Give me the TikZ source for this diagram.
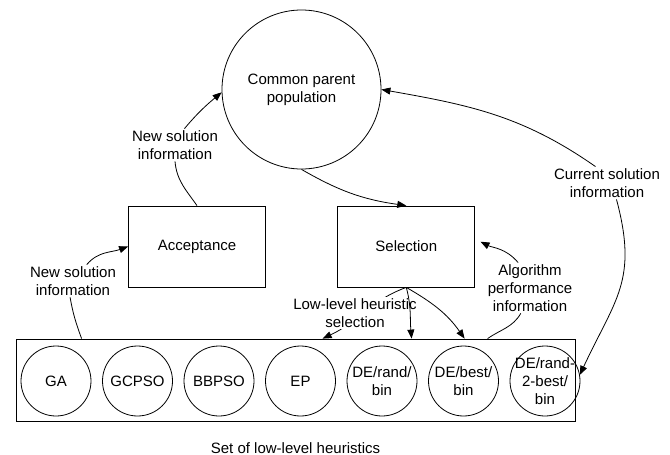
\documentclass[tikz,border=0pt]{standalone}
\usepackage{fontspec}
\setmainfont{Liberation Sans}
\usepackage{tikz}
\usetikzlibrary{shapes,positioning,arrows.meta}
\tikzset{heur/.style={circle,draw,minimum size=70pt,inner sep=0pt,align=center}}
\tikzset{stage/.style={rectangle,draw,minimum width=137pt,minimum height=81pt}}
\tikzset{info/.style={fill=white,align=center,inner sep=1.5pt}}
\tikzset{flow/.style={-{Triangle[length=9pt,width=7pt]}}}

\begin{document}
\begin{tikzpicture}[x=1pt,y=-1pt,line width=0.8pt,font=\fontsize{15}{18}\selectfont]
        \useasboundingbox (0,0) rectangle (670,455);

        \node[circle,draw,minimum size=159pt,align=center] (pop) at (301.5,89.5) {Common parent\\population};
        \node[stage] (acc) at (197,246.5) {Acceptance};
        \node[stage,right=71.5pt of acc] (sel) {Selection};

        \node[rectangle,draw,minimum width=559pt,minimum height=82pt] (set) at (295.5,380) {};
        \node[below=17pt of set] (setname) {Set of low-level heuristics};

        \node[heur] (ga) at (56,381) {GA};
        \node[heur,right=10.7pt of ga] (gcpso) {GCPSO};
        \node[heur,right=10.7pt of gcpso] (bbpso) {BBPSO};
        \node[heur,right=10.7pt of bbpso] (ep) {EP};
        \node[heur,right=10.7pt of ep] (derand) {DE/rand/\\bin};
        \node[heur,right=10.7pt of derand] (debest) {DE/best/\\bin};
        \node[heur,inner sep=-4pt,right=10.7pt of debest] (derandtwo) {DE/rand-\\2-best/\\bin};

        % new solution -> population
        \node[info] (newsol1) at (175,145) {New solution\\information};
        \draw (acc.north) to[out=125,in=-85] (newsol1.south);
        \draw[flow] (newsol1.60) to[out=50,in=220] (pop.182);

        % new solution -> acceptance
        \node[info] (newsol2) at (73,281) {New solution\\information};
        \draw ([xshift=66pt]set.north west) to[out=110,in=-80] (newsol2.-100);
        \draw[flow] (newsol2.50) to[out=50,in=200] (acc.west);

        \draw[flow] (pop.south) to[out=-30,in=172] (sel.north);

        % heuristic selection
        \draw[flow] (sel.south) to[out=200,in=25] ([xshift=307pt]set.north west);
        \node[info] (lowsel) at (355,313) {Low-level heuristic\\selection};
        \draw[flow] (sel.south) to[out=-75,in=95] ([xshift=396pt]set.north west);
        \draw[flow] (sel.south) to[out=-30,in=125] ([xshift=449pt]set.north west);

        % performance feedback
        \node[info] (algo) at (530,288) {Algorithm\\performance\\information};
        \draw ([xshift=472pt]set.north west) to[out=35,in=-120] (algo.-110);
        \draw[flow,shorten >=6pt] (algo.115) to[out=130,in=-27] ([yshift=7.5pt]sel.east);

        % current solution
        \node[info] (cursol) at (607,183) {Current solution\\information};
        \draw[flow] (cursol.125) to[out=145,in=-10] (pop.east);
        \draw[flow] (cursol.-60) to[out=-75,in=65,looseness=1.2] (derandtwo.10);
    \end{tikzpicture}
\end{document}
